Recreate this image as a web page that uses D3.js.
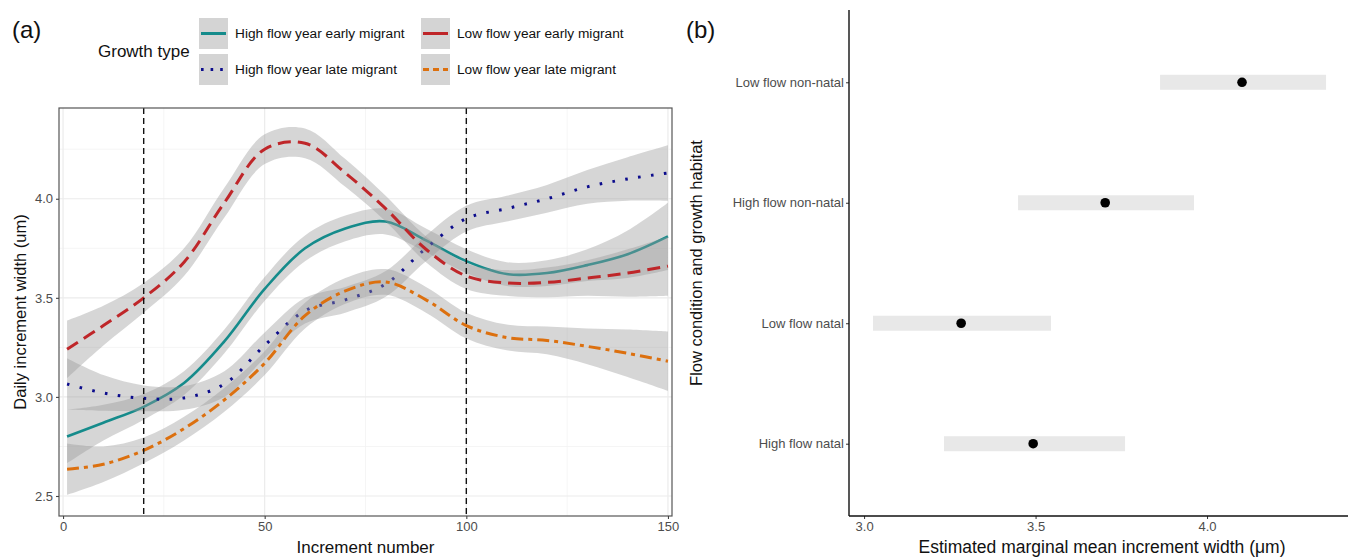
<!DOCTYPE html>
<html>
<head>
<meta charset="utf-8">
<script src="https://cdn.jsdelivr.net/npm/d3@7"></script>
<style>
  body { margin: 0; background: #fff; }
  text { font-family: "Liberation Sans", Arial, sans-serif; }
  .narrow { font-family: "Liberation Sans Narrow", "Arial Narrow", "Liberation Sans", sans-serif; }
</style>
</head>
<body>
<svg id="chart" width="1351" height="557"></svg>
<script>
// panel (a) data: smoothed increment width by increment number
const incrementX = [1, 10, 20, 30, 40, 50, 60, 70, 80, 90, 100, 110, 120, 130, 140, 150];
const highEarlyMean = [2.80, 2.87, 2.95, 3.07, 3.28, 3.545, 3.75, 3.85, 3.885, 3.79, 3.685, 3.62, 3.625, 3.665, 3.72, 3.81];
const highEarlyHalf = [0.135, 0.09, 0.065, 0.06, 0.06, 0.06, 0.065, 0.065, 0.065, 0.06, 0.06, 0.06, 0.065, 0.08, 0.12, 0.17];
const highLateMean = [3.065, 3.02, 2.993, 2.995, 3.065, 3.26, 3.435, 3.49, 3.57, 3.75, 3.90, 3.95, 4.00, 4.06, 4.10, 4.13];
const highLateHalf = [0.13, 0.09, 0.065, 0.06, 0.065, 0.065, 0.065, 0.065, 0.065, 0.065, 0.065, 0.065, 0.07, 0.085, 0.11, 0.14];
const lowEarlyMean = [3.24, 3.36, 3.50, 3.68, 3.98, 4.25, 4.28, 4.13, 3.95, 3.745, 3.61, 3.575, 3.578, 3.60, 3.625, 3.66];
const lowEarlyHalf = [0.145, 0.10, 0.075, 0.07, 0.075, 0.075, 0.075, 0.07, 0.065, 0.065, 0.065, 0.065, 0.075, 0.09, 0.12, 0.15];
const lowLateMean = [2.635, 2.66, 2.73, 2.84, 2.985, 3.17, 3.41, 3.535, 3.58, 3.49, 3.36, 3.30, 3.285, 3.255, 3.22, 3.18];
const lowLateHalf = [0.13, 0.09, 0.065, 0.06, 0.06, 0.06, 0.065, 0.065, 0.065, 0.065, 0.065, 0.065, 0.07, 0.09, 0.12, 0.15];
const growthTypes = ["High flow year early migrant", "High flow year late migrant", "Low flow year early migrant", "Low flow year late migrant"];
const cutoffs = [20, 100];
const xTicksA = [0, 50, 100, 150];
const yTicksA = [2.5, 3.0, 3.5, 4.0];

// panel (b) data: estimated marginal means
const habitats = ["Low flow non-natal", "High flow non-natal", "Low flow natal", "High flow natal"];
const emmean = [4.102, 3.703, 3.283, 3.493];
const emLower = [3.863, 3.449, 3.026, 3.233];
const emUpper = [4.347, 3.962, 3.545, 3.761];
const xTicksB = [3.0, 3.5, 4.0];

const svg = d3.select("#chart");

const series = [
  {name: growthTypes[0], mean: highEarlyMean, half: highEarlyHalf, color: "#158b8b", dash: null, w: 2.6},
  {name: growthTypes[1], mean: highLateMean, half: highLateHalf, color: "#0c0c8c", dash: "2.6,10.4", w: 3},
  {name: growthTypes[2], mean: lowEarlyMean, half: lowEarlyHalf, color: "#bf2629", dash: "13,7", w: 3},
  {name: growthTypes[3], mean: lowLateMean, half: lowLateHalf, color: "#dc700f", dash: "12,5,4,5", w: 3}
];

// ---------- panel (a) ----------
const A = {left: 59, right: 672, top: 108, bottom: 516};
const xA = d3.scaleLinear().domain([-1, 151]).range([A.left, A.right]);
const yA = d3.scaleLinear().domain([2.399, 4.458]).range([A.bottom, A.top]);

const ga = svg.append("g");
ga.append("rect").attr("x", A.left).attr("y", A.top)
  .attr("width", A.right - A.left).attr("height", A.bottom - A.top).attr("fill", "#fff");

// grid
[25, 75, 125].forEach(v => ga.append("line").attr("x1", xA(v)).attr("x2", xA(v))
  .attr("y1", A.top).attr("y2", A.bottom).attr("stroke", "#f2f2f2").attr("stroke-width", 0.8));
[2.75, 3.25, 3.75, 4.25].forEach(v => ga.append("line").attr("y1", yA(v)).attr("y2", yA(v))
  .attr("x1", A.left).attr("x2", A.right).attr("stroke", "#f2f2f2").attr("stroke-width", 0.8));
xTicksA.forEach(v => ga.append("line").attr("x1", xA(v)).attr("x2", xA(v))
  .attr("y1", A.top).attr("y2", A.bottom).attr("stroke", "#ebebeb").attr("stroke-width", 1.2));
yTicksA.forEach(v => ga.append("line").attr("y1", yA(v)).attr("y2", yA(v))
  .attr("x1", A.left).attr("x2", A.right).attr("stroke", "#ebebeb").attr("stroke-width", 1.2));

svg.append("clipPath").attr("id", "clipA").append("rect")
  .attr("x", A.left).attr("y", A.top).attr("width", A.right - A.left).attr("height", A.bottom - A.top);

const curve = d3.curveCatmullRom.alpha(0.5);
const area = d3.area().curve(curve)
  .x((d, i) => xA(incrementX[i]))
  .y0(d => yA(d[0] - d[1]))
  .y1(d => yA(d[0] + d[1]));
const line = d3.line().curve(curve)
  .x((d, i) => xA(incrementX[i]))
  .y(d => yA(d));

const plot = ga.append("g").attr("clip-path", "url(#clipA)");
series.forEach(s => {
  const pairs = s.mean.map((m, i) => [m, s.half[i]]);
  plot.append("path").attr("d", area(pairs)).attr("fill", "#999").attr("fill-opacity", 0.4);
  plot.append("path").attr("d", line(s.mean)).attr("fill", "none")
    .attr("stroke", s.color).attr("stroke-width", s.w)
    .attr("stroke-dasharray", s.dash);
});

cutoffs.forEach(v => plot.append("line").attr("x1", xA(v)).attr("x2", xA(v))
  .attr("y1", A.top).attr("y2", A.bottom).attr("stroke", "#111")
  .attr("stroke-width", 1.4).attr("stroke-dasharray", "6,4"));

ga.append("rect").attr("x", A.left).attr("y", A.top)
  .attr("width", A.right - A.left).attr("height", A.bottom - A.top)
  .attr("fill", "none").attr("stroke", "#555").attr("stroke-width", 1.2);

// axes
const axA = ga.append("g").attr("transform", `translate(0,${A.bottom})`)
  .call(d3.axisBottom(xA).tickValues(xTicksA).tickSize(3).tickPadding(3));
const ayA = ga.append("g").attr("transform", `translate(${A.left},0)`)
  .call(d3.axisLeft(yA).tickValues(yTicksA).tickFormat(d3.format(".1f")).tickSize(3).tickPadding(3));
[axA, ayA].forEach(ax => {
  ax.select(".domain").remove();
  ax.selectAll(".tick line").attr("stroke", "#444").attr("stroke-width", 1.1);
  ax.selectAll("text").attr("class", "narrow").attr("font-size", 13).attr("fill", "#4d4d4d");
});

ga.append("text").attr("x", (A.left + A.right) / 2).attr("y", 553).attr("text-anchor", "middle")
  .attr("font-size", 17).attr("fill", "#111").text("Increment number");
ga.append("text").attr("transform", `translate(26,${(A.top + A.bottom) / 2}) rotate(-90)`)
  .attr("text-anchor", "middle").attr("font-size", 16.5).attr("fill", "#111")
  .text("Daily increment width (um)");

svg.append("text").attr("x", 12).attr("y", 38).attr("font-size", 24).attr("fill", "#111").text("(a)");

// legend
const leg = svg.append("g");
leg.append("text").attr("x", 98).attr("y", 57).attr("font-size", 17).attr("fill", "#111").text("Growth type");
series.forEach((s, i) => {
  const col = Math.floor(i / 2), row = i % 2;
  const kx = 199 + col * 222, ky = 18 + row * 36;
  leg.append("rect").attr("x", kx).attr("y", ky).attr("width", 29).attr("height", 31)
    .attr("fill", "#d4d4d4");
  leg.append("line").attr("x1", kx + 2).attr("x2", kx + 27).attr("y1", ky + 15.5).attr("y2", ky + 15.5)
    .attr("stroke", s.color).attr("stroke-width", 3).attr("stroke-dasharray", i === 1 ? "2.6,7" : (i === 3 ? "6,4" : null));
  leg.append("text").attr("x", kx + 36).attr("y", ky + 20).attr("font-size", 13.7).attr("fill", "#111").text(s.name);
});

// ---------- panel (b) ----------
const B = {left: 849, right: 1348, top: 10, bottom: 516};
const xB = d3.scaleLinear().domain([2.956, 4.411]).range([B.left, B.right]);
const yB = d3.scalePoint().domain(habitats).range([B.top, B.bottom]).padding(0.6);

const gb = svg.append("g");
habitats.forEach((h, i) => {
  gb.append("rect").attr("x", xB(emLower[i])).attr("y", yB(h) - 7.5)
    .attr("width", xB(emUpper[i]) - xB(emLower[i])).attr("height", 15).attr("fill", "#e8e8e8");
  gb.append("circle").attr("cx", xB(emmean[i])).attr("cy", yB(h)).attr("r", 4.8).attr("fill", "#000");
});

const axB = gb.append("g").attr("transform", `translate(0,${B.bottom})`)
  .call(d3.axisBottom(xB).tickValues(xTicksB).tickFormat(d3.format(".1f")).tickSize(3).tickPadding(3));
const ayB = gb.append("g").attr("transform", `translate(${B.left},0)`)
  .call(d3.axisLeft(yB).tickSize(3).tickPadding(2));
[axB, ayB].forEach(ax => {
  ax.select(".domain").remove();
  ax.selectAll(".tick line").attr("stroke", "#333");
  ax.selectAll("text").attr("class", "narrow").attr("font-size", 13).attr("fill", "#4d4d4d");
});
gb.append("line").attr("x1", B.left).attr("x2", B.left).attr("y1", B.top).attr("y2", B.bottom)
  .attr("stroke", "#111").attr("stroke-width", 1.4);
gb.append("line").attr("x1", B.left).attr("x2", B.right).attr("y1", B.bottom).attr("y2", B.bottom)
  .attr("stroke", "#111").attr("stroke-width", 1.4);

gb.append("text").attr("x", 1102).attr("y", 553).attr("text-anchor", "middle")
  .attr("font-size", 17.5).attr("fill", "#111").text("Estimated marginal mean increment width (μm)");
gb.append("text").attr("transform", `translate(702,${(B.top + B.bottom) / 2}) rotate(-90)`)
  .attr("text-anchor", "middle").attr("font-size", 16.5).attr("fill", "#111")
  .text("Flow condition and growth habitat");

svg.append("text").attr("x", 686).attr("y", 38).attr("font-size", 24).attr("fill", "#111").text("(b)");
</script>
</body>
</html>
